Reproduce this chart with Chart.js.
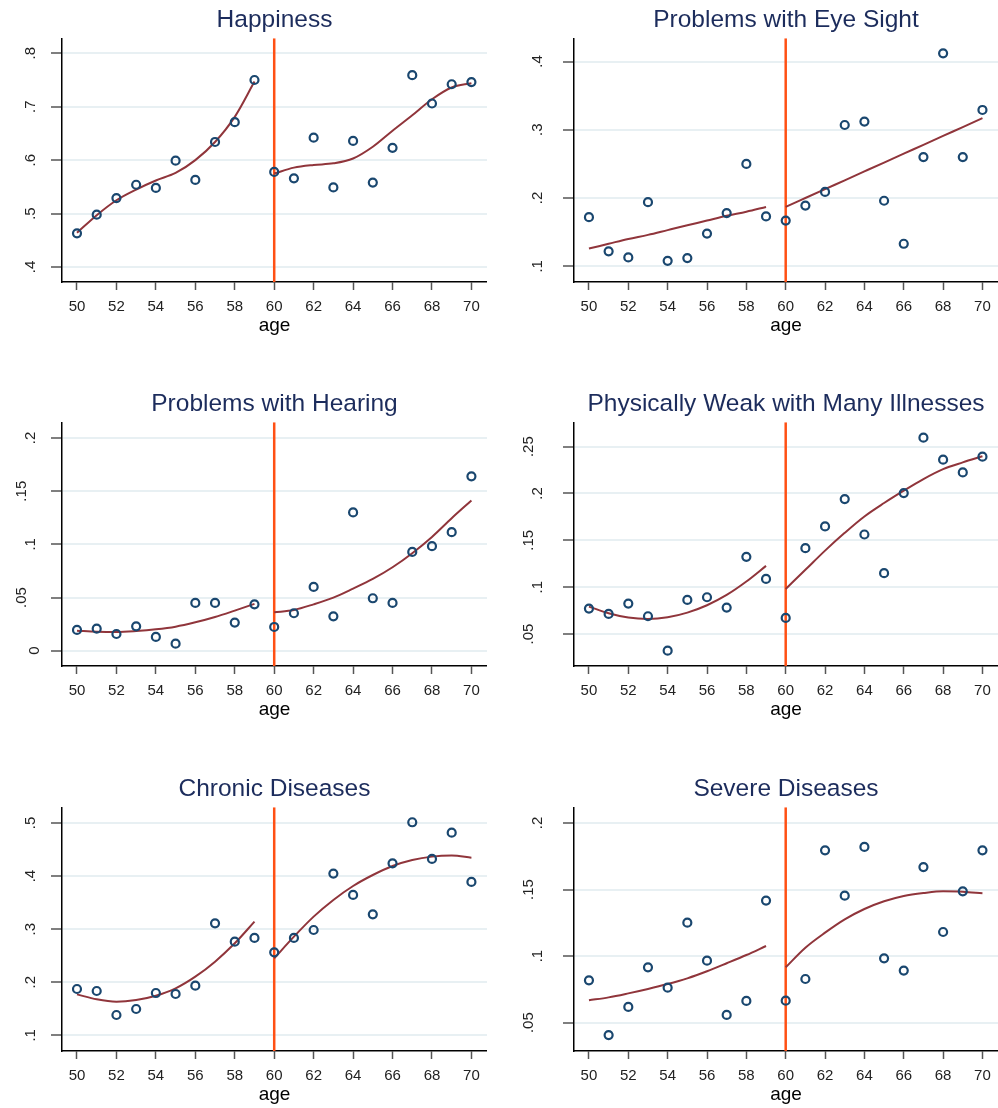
<!DOCTYPE html>
<html>
<head>
<meta charset="utf-8">
<script src="https://cdn.jsdelivr.net/npm/chart.js@4.4.0/dist/chart.umd.min.js"></script>
<style>
  body { margin: 0; background: #fff; width: 998px; height: 1108px; position: relative; overflow: hidden; }
  .panel { position: absolute; height: 345px; }
</style>
</head>
<body>
<div class="panel" style="left:0;top:0;width:487px"><canvas id="c1"></canvas></div>
<div class="panel" style="left:500px;top:0;width:498px"><canvas id="c2"></canvas></div>
<div class="panel" style="left:0;top:384px;width:487px"><canvas id="c3"></canvas></div>
<div class="panel" style="left:500px;top:384px;width:498px"><canvas id="c4"></canvas></div>
<div class="panel" style="left:0;top:769px;width:487px"><canvas id="c5"></canvas></div>
<div class="panel" style="left:500px;top:769px;width:498px"><canvas id="c6"></canvas></div>
<script>
const ages = [50, 51, 52, 53, 54, 55, 56, 57, 58, 59, 60, 61, 62, 63, 64, 65, 66, 67, 68, 69, 70];
const leftAges = [50, 51, 52, 53, 54, 55, 56, 57, 58, 59];
const rightAges = [60, 61, 62, 63, 64, 65, 66, 67, 68, 69, 70];
const xTicks = [50, 52, 54, 56, 58, 60, 62, 64, 66, 68, 70];
const cutoff = 60;

// Happiness
const happyPts = [0.463, 0.498, 0.529, 0.554, 0.548, 0.599, 0.563, 0.634, 0.671, 0.750, 0.578, 0.566, 0.642, 0.549, 0.636, 0.558, 0.623, 0.759, 0.706, 0.742, 0.746];
const happyFitL = [0.464, 0.497, 0.525, 0.545, 0.562, 0.576, 0.600, 0.634, 0.681, 0.747];
const happyFitR = [0.575, 0.586, 0.591, 0.594, 0.603, 0.625, 0.655, 0.684, 0.714, 0.736, 0.744];
const happyTicks = [0.4, 0.5, 0.6, 0.7, 0.8];
const happyLabels = [".4", ".5", ".6", ".7", ".8"];

// Problems with Eye Sight
const eyePts = [0.172, 0.122, 0.113, 0.194, 0.108, 0.112, 0.148, 0.178, 0.250, 0.173, 0.167, 0.189, 0.209, 0.307, 0.312, 0.196, 0.133, 0.260, 0.412, 0.260, 0.329];
const eyeFitL = [0.126, 0.133, 0.140, 0.146, 0.153, 0.160, 0.167, 0.174, 0.180, 0.187];
const eyeFitR = [0.187, 0.200, 0.213, 0.226, 0.239, 0.252, 0.265, 0.278, 0.291, 0.304, 0.317];
const eyeTicks = [0.1, 0.2, 0.3, 0.4];
const eyeLabels = [".1", ".2", ".3", ".4"];

// Problems with Hearing
const hearPts = [0.0195, 0.0207, 0.0157, 0.0229, 0.0129, 0.0066, 0.0449, 0.0449, 0.0264, 0.0436, 0.0223, 0.0352, 0.060, 0.0323, 0.130, 0.0493, 0.0449, 0.0929, 0.0983, 0.1115, 0.164];
const hearFitL = [0.0188, 0.0179, 0.0176, 0.0185, 0.0201, 0.0226, 0.0267, 0.0317, 0.0377, 0.044];
const hearFitR = [0.0361, 0.0383, 0.0436, 0.0499, 0.0584, 0.0675, 0.0785, 0.0917, 0.107, 0.1246, 0.1413];
const hearTicks = [0, 0.05, 0.1, 0.15, 0.2];
const hearLabels = ["0", ".05", ".1", ".15", ".2"];

// Physically Weak with Many Illnesses
const weakPts = [0.0771, 0.0714, 0.0824, 0.0689, 0.0322, 0.0864, 0.0892, 0.0782, 0.1324, 0.1088, 0.0671, 0.1416, 0.1648, 0.194, 0.1562, 0.1149, 0.2004, 0.2596, 0.2361, 0.2225, 0.2393];
const weakFitL = [0.0792, 0.0721, 0.0675, 0.066, 0.0678, 0.0728, 0.0807, 0.0917, 0.106, 0.1227];
const weakFitR = [0.0981, 0.1185, 0.139, 0.158, 0.1755, 0.1898, 0.203, 0.2154, 0.226, 0.2332, 0.2397];
const weakTicks = [0.05, 0.1, 0.15, 0.2, 0.25];
const weakLabels = [".05", ".1", ".15", ".2", ".25"];

// Chronic Diseases
const chronPts = [0.1873, 0.1835, 0.1383, 0.1496, 0.1797, 0.1779, 0.1936, 0.311, 0.2765, 0.2834, 0.2564, 0.2834, 0.2984, 0.4046, 0.3644, 0.328, 0.424, 0.5013, 0.4322, 0.4818, 0.3889];
const chronFitL = [0.1772, 0.1678, 0.1634, 0.1666, 0.1747, 0.1885, 0.2105, 0.2388, 0.2733, 0.3141];
const chronFitR = [0.245, 0.2859, 0.3236, 0.355, 0.3813, 0.402, 0.419, 0.4303, 0.4366, 0.4385, 0.4347];
const chronTicks = [0.1, 0.2, 0.3, 0.4, 0.5];
const chronLabels = [".1", ".2", ".3", ".4", ".5"];

// Severe Diseases
const sevPts = [0.0818, 0.0407, 0.0618, 0.0916, 0.0763, 0.1251, 0.0966, 0.0558, 0.0663, 0.1417, 0.0665, 0.0828, 0.1795, 0.1454, 0.182, 0.0983, 0.0891, 0.1669, 0.1181, 0.1487, 0.1795];
const sevFitL = [0.0668, 0.069, 0.072, 0.0753, 0.079, 0.0833, 0.0886, 0.0946, 0.1008, 0.1076];
const sevFitR = [0.0916, 0.1063, 0.1176, 0.1276, 0.1354, 0.1412, 0.1452, 0.1474, 0.1487, 0.1484, 0.1472];
const sevTicks = [0.05, 0.1, 0.15, 0.2];
const sevLabels = [".05", ".1", ".15", ".2"];

const FONT = '"Liberation Sans", Arial, sans-serif';
const navy = "#1a476f";
const maroon = "#90353b";
const orange = "#ff5014";

// y tick labels are turned 90 degrees, Stata style
const rotatedYLabels = {
  id: "rotatedYLabels",
  afterDraw(chart, args, opts) {
    const y = chart.scales.y;
    const ctx = chart.ctx;
    ctx.save();
    ctx.font = "15px " + FONT;
    ctx.fillStyle = "#222";
    ctx.textAlign = "center";
    ctx.textBaseline = "middle";
    opts.values.forEach((v, i) => {
      const txt = opts.labels[i];
      const w = ctx.measureText(txt).width;
      ctx.save();
      ctx.translate(y.right - opts.gap - w, y.getPixelForValue(v));
      ctx.rotate(-Math.PI / 2);
      ctx.fillText(txt, 0, 0);
      ctx.restore();
    });
    ctx.restore();
  }
};

function pairs(xs, ys) {
  return xs.map((x, i) => ({ x: x, y: ys[i] }));
}

function drawPanel(id, title, pts, fitL, fitR, yMin, yMax, yTicks, yLabels, axisW, gap) {
  new Chart(document.getElementById(id), {
    type: "scatter",
    data: {
      datasets: [
        {
          data: pairs(ages, pts),
          borderColor: navy,
          backgroundColor: "rgba(0,0,0,0)",
          pointRadius: 4,
          pointHoverRadius: 4,
          borderWidth: 2.2
        },
        {
          data: pairs(leftAges, fitL),
          showLine: true,
          pointRadius: 0,
          borderColor: maroon,
          borderWidth: 2,
          cubicInterpolationMode: "monotone"
        },
        {
          data: pairs(rightAges, fitR),
          showLine: true,
          pointRadius: 0,
          borderColor: maroon,
          borderWidth: 2,
          cubicInterpolationMode: "monotone"
        },
        {
          data: [{ x: cutoff, y: yMin }, { x: cutoff, y: yMax }],
          showLine: true,
          pointRadius: 0,
          borderColor: orange,
          borderWidth: 2.5
        }
      ]
    },
    options: {
      responsive: true,
      maintainAspectRatio: false,
      animation: false,
      layout: { padding: 0, autoPadding: false },
      plugins: {
        legend: { display: false },
        tooltip: { enabled: false },
        title: {
          display: true,
          text: title,
          fullSize: false,
          color: "#1c2c5c",
          font: { family: FONT, size: 24.5, weight: "normal", lineHeight: 1.2 },
          padding: { top: 6, bottom: 2.9 }
        },
        rotatedYLabels: { values: yTicks, labels: yLabels, gap: gap }
      },
      scales: {
        x: {
          type: "linear",
          min: 49.24,
          max: 70.79,
          afterBuildTicks: s => { s.ticks = xTicks.map(v => ({ value: v })); },
          afterFit: s => { s.height = 63; s.paddingLeft = 0; s.paddingRight = 0; },
          ticks: {
            callback: v => v,
            color: "#222",
            font: { family: FONT, size: 15 },
            padding: 8,
            maxRotation: 0,
            autoSkip: false
          },
          grid: { drawOnChartArea: false, drawTicks: true, tickLength: 8, tickColor: "#555", tickWidth: 1.5 },
          border: { color: "#000", width: 1.5 },
          title: {
            display: true,
            text: "age",
            color: "#000",
            font: { family: FONT, size: 19 },
            padding: { top: 0, bottom: 8 }
          }
        },
        y: {
          min: yMin,
          max: yMax,
          afterBuildTicks: s => { s.ticks = yTicks.map(v => ({ value: v })); },
          afterFit: s => { s.width = axisW; s.paddingTop = 0; s.paddingBottom = 0; },
          ticks: { display: false },
          grid: { color: "#e8f0f3", lineWidth: 2, drawTicks: true, tickLength: 11, tickColor: "#555", tickWidth: 1.5 },
          border: { color: "#000", width: 1.5 }
        }
      }
    },
    plugins: [rotatedYLabels]
  });
}

drawPanel("c1", "Happiness", happyPts, happyFitL, happyFitR, 0.372, 0.828, happyTicks, happyLabels, 62, 19);
drawPanel("c2", "Problems with Eye Sight", eyePts, eyeFitL, eyeFitR, 0.077, 0.434, eyeTicks, eyeLabels, 74, 24);
drawPanel("c3", "Problems with Hearing", hearPts, hearFitL, hearFitR, -0.0144, 0.2148, hearTicks, hearLabels, 62, 19);
drawPanel("c4", "Physically Weak with Many Illnesses", weakPts, weakFitL, weakFitR, 0.0158, 0.276, weakTicks, weakLabels, 74, 24);
drawPanel("c5", "Chronic Diseases", chronPts, chronFitL, chronFitR, 0.0705, 0.5295, chronTicks, chronLabels, 62, 19);
drawPanel("c6", "Severe Diseases", sevPts, sevFitL, sevFitR, 0.0287, 0.2118, sevTicks, sevLabels, 74, 24);
</script>
</body>
</html>
